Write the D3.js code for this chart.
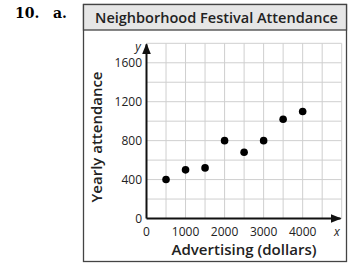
<!DOCTYPE html>
<html>
<head>
<meta charset="utf-8">
<script src="https://cdn.jsdelivr.net/npm/d3@7"></script>
<style>
  body { margin: 0; background: #fff; }
  text { font-family: "Open Sans", sans-serif; }
</style>
</head>
<body>
<script>
// data
const advertising = [500, 1000, 1500, 2000, 2500, 3000, 3500, 4000];
const attendance = [400, 500, 520, 800, 680, 800, 1020, 1100];
const xTicks = [0, 1000, 2000, 3000, 4000];
const yTicks = [0, 400, 800, 1200, 1600];

const svg = d3.select("body")
    .append("svg")
    .attr("width", 349)
    .attr("height", 264);

// problem number
svg.append("text")
    .attr("x", 15).attr("y", 17.5)
    .style("font-family", "'DejaVu Serif', serif")
    .style("font-weight", "bold")
    .style("font-size", "14px")
    .text("10.");
svg.append("text")
    .attr("x", 53).attr("y", 17.5)
    .style("font-family", "'DejaVu Serif', serif")
    .style("font-weight", "bold")
    .style("font-size", "14px")
    .text("a.");

// frame + header
svg.append("rect")
    .attr("x", 83.5).attr("y", 4.5)
    .attr("width", 263).attr("height", 257)
    .attr("fill", "#fff")
    .attr("stroke", "#444")
    .attr("stroke-width", 1.3);
svg.append("rect")
    .attr("x", 83.5).attr("y", 4.5)
    .attr("width", 263).attr("height", 25.5)
    .attr("fill", "#e6e6e6")
    .attr("stroke", "#444")
    .attr("stroke-width", 1.3);
svg.append("text")
    .attr("x", 95).attr("y", 22.5)
    .attr("textLength", 243).attr("lengthAdjust", "spacingAndGlyphs")
    .style("font-size", "14.5px")
    .style("font-weight", 600)
    .attr("fill", "#222")
    .text("Neighborhood Festival Attendance");

const x = d3.scaleLinear().domain([0, 5000]).range([146.5, 341.7]);
const y = d3.scaleLinear().domain([0, 1800]).range([218.5, 43.3]);

// grid
const grid = svg.append("g").attr("stroke", "#cfcfcf").attr("stroke-width", 1);
grid.selectAll(".vg")
    .data(d3.range(500, 5001, 500))
    .enter().append("line")
    .attr("x1", d => x(d)).attr("x2", d => x(d))
    .attr("y1", y(0)).attr("y2", y(1800));
grid.selectAll(".hg")
    .data(d3.range(200, 1801, 200))
    .enter().append("line")
    .attr("y1", d => y(d)).attr("y2", d => y(d))
    .attr("x1", x(0)).attr("x2", x(5000));

// axes with arrows
svg.append("defs").append("marker")
    .attr("id", "arr")
    .attr("viewBox", "0 0 10 10")
    .attr("refX", 9).attr("refY", 5)
    .attr("markerWidth", 5.5).attr("markerHeight", 5.5)
    .attr("markerUnits", "strokeWidth")
    .attr("orient", "auto")
    .append("path")
    .attr("d", "M0,1 L10,5 L0,9 Z")
    .attr("fill", "#111");

svg.append("line")
    .attr("x1", x(0)).attr("y1", y(0))
    .attr("x2", x(4970)).attr("y2", y(0))
    .attr("stroke", "#111").attr("stroke-width", 2)
    .attr("marker-end", "url(#arr)");
svg.append("line")
    .attr("x1", x(0)).attr("y1", y(0))
    .attr("x2", x(0)).attr("y2", y(1790))
    .attr("stroke", "#111").attr("stroke-width", 2)
    .attr("marker-end", "url(#arr)");

// tick labels
svg.selectAll(".xt")
    .data(xTicks)
    .enter().append("text")
    .attr("x", d => x(d)).attr("y", 236)
    .attr("text-anchor", "middle")
    .style("font-size", "12px")
    .attr("fill", "#222")
    .text(d => d);
svg.selectAll(".yt")
    .data(yTicks)
    .enter().append("text")
    .attr("x", 142).attr("y", d => y(d) + 4.5)
    .attr("text-anchor", "end")
    .style("font-size", "12px")
    .attr("fill", "#222")
    .text(d => d);

svg.append("text")
    .attr("x", 337).attr("y", 236)
    .attr("text-anchor", "middle")
    .style("font-size", "12px")
    .style("font-style", "italic")
    .attr("fill", "#222")
    .text("x");
svg.append("text")
    .attr("x", 138).attr("y", 51)
    .attr("text-anchor", "middle")
    .style("font-size", "12px")
    .style("font-style", "italic")
    .attr("fill", "#222")
    .text("y");

// axis titles
svg.append("text")
    .attr("x", 244).attr("y", 255)
    .attr("text-anchor", "middle")
    .attr("textLength", 145).attr("lengthAdjust", "spacingAndGlyphs")
    .style("font-size", "15px")
    .style("font-weight", 600)
    .attr("fill", "#222")
    .text("Advertising (dollars)");
svg.append("text")
    .attr("transform", "translate(102,137) rotate(-90)")
    .attr("text-anchor", "middle")
    .attr("textLength", 131).attr("lengthAdjust", "spacingAndGlyphs")
    .style("font-size", "15px")
    .style("font-weight", 600)
    .attr("fill", "#222")
    .text("Yearly attendance");

// points
svg.selectAll(".pt")
    .data(advertising)
    .enter().append("circle")
    .attr("cx", d => x(d))
    .attr("cy", (d, i) => y(attendance[i]))
    .attr("r", 3.8)
    .attr("fill", "#000");
</script>
</body>
</html>
